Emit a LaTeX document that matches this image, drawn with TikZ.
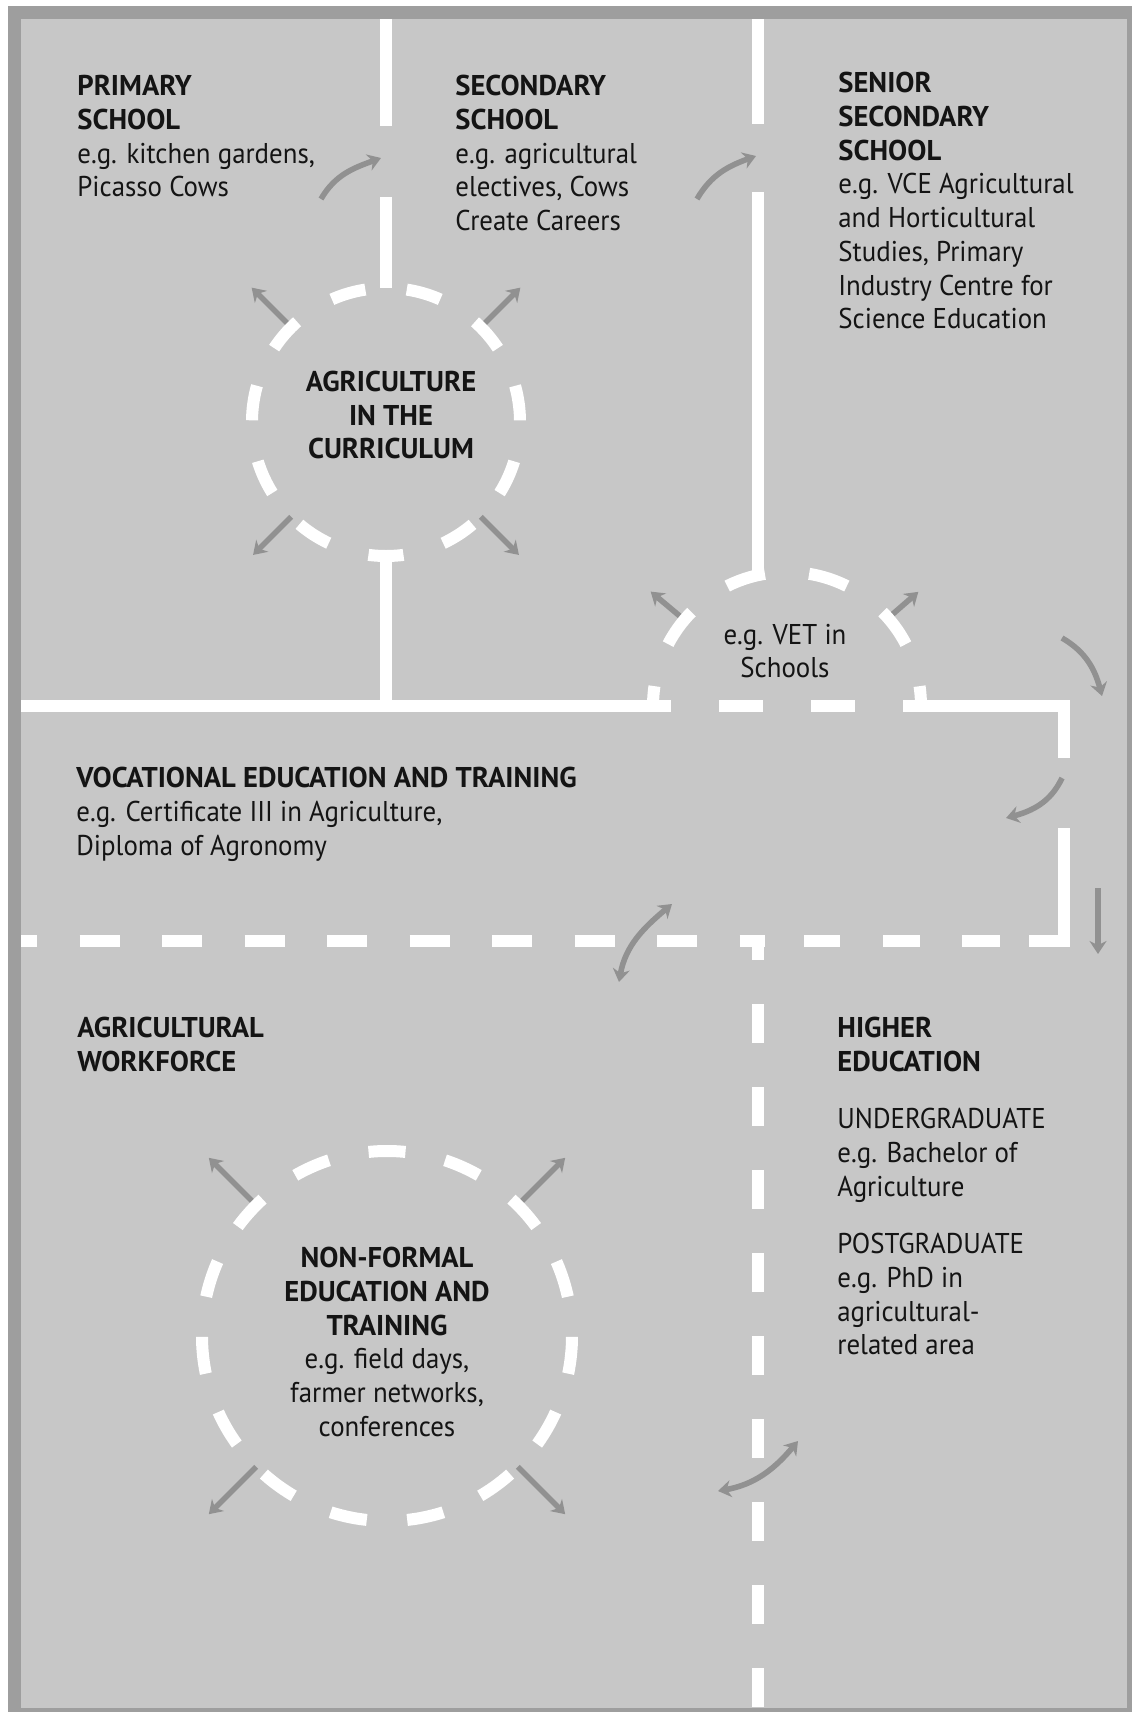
\documentclass[tikz,border=0pt]{standalone}
\usepackage{fontspec}
\setmainfont{PT Sans}[UprightFeatures={FakeStretch=0.94}]
\usetikzlibrary{arrows.meta,calc}

\definecolor{panel}{RGB}{199,199,199}
\definecolor{frame}{RGB}{158,158,158}
\definecolor{flowgrey}{RGB}{145,145,145}
\definecolor{ink}{RGB}{20,20,20}

\begin{document}
\begin{tikzpicture}[x=0.5pt,y=0.5pt,
    >={Stealth[length=6.5pt,width=8.5pt]},
    wall/.style={white,line width=6pt},
    ring/.style={white,line width=6pt},
    flow/.style={flowgrey,line width=2.8pt},
    lbl/.style={inner sep=0pt,align=left,anchor=north west,text=ink,
                font=\fontsize{14.3}{16.85}\selectfont}]
   \useasboundingbox (0,0) rectangle (1132,-1712);
   \fill[white] (0,0) rectangle (1132,-1712);
   \fill[frame] (8,-6) rectangle (1132,-1712);
   \fill[panel] (21,-19) rectangle (1127,-1708);

   % centres of the three rings
   \coordinate (curr) at (386,-422);
   \coordinate (vetc) at (787,-706);
   \coordinate (nonf) at (387,-1336);

   % grey arrows out of the rings
   \draw[flow,->] ($(curr)+(135:134)$) -- ($(curr)+(135:190)$);
   \draw[flow,->] ($(curr)+(45:134)$) -- ($(curr)+(45:190)$);
   \draw[flow,->] ($(curr)+(225:134)$) -- ($(curr)+(225:188)$);
   \draw[flow,->] ($(curr)+(315:134)$) -- ($(curr)+(315:188)$);
   \draw[flow,->] ($(vetc)+(140:134)$) -- ($(vetc)+(140:178)$);
   \draw[flow,->] ($(vetc)+(41:134)$) -- ($(vetc)+(41:174)$);
   \draw[flow,->] ($(nonf)+(135:185)$) -- ($(nonf)+(135:252)$);
   \draw[flow,->] ($(nonf)+(45:185)$) -- ($(nonf)+(45:252)$);
   \draw[flow,->] ($(nonf)+(225:185)$) -- ($(nonf)+(225:252)$);
   \draw[flow,->] ($(nonf)+(315:185)$) -- ($(nonf)+(315:252)$);

   % curved arrows between the sectors
   \draw[flow,->] (321,-199) to[out=60,in=200] (381,-158);
   \draw[flow,->] (697,-199) to[out=60,in=200] (756,-156);
   \draw[flow,->] (1062,-638) to[out=-30,in=105] (1102,-696);
   \draw[flow,->] (1062,-778) to[out=-115,in=15] (1006,-818);
   \draw[flow,->] (1098,-888) -- (1098,-954);
   \draw[flow,<->] (619,-982) to[out=80,in=220] (672,-904);
   \draw[flow,<->] (718,-1491) to[out=10,in=230] (798,-1441);

   % white walls
   \draw[wall] (386,-19) -- (386,-126) (386,-197) -- (386,-288)
               (386,-556) -- (386,-706);
   \draw[wall] (758,-19) -- (758,-124) (758,-192) -- (758,-575);
   \draw[wall] (21,-706) -- (671,-706) (719,-706) -- (763,-706)
               (811,-706) -- (855,-706) (903,-706) -- (1064,-706) -- (1064,-758)
               (1064,-828) -- (1064,-941) -- (1029,-941);
   \draw[wall,dash pattern=on 20pt off 21.25pt,dash phase=12pt] (21,-941) -- (765,-941);
   \draw[wall] (804,-941) -- (840,-941) (883,-941) -- (920,-941) (962,-941) -- (1000,-941);
   \draw[wall,dash pattern=on 19.5pt off 22pt,dash phase=10pt] (758,-941) -- (758,-1708);

   % dashed rings
   \draw[ring,dash pattern=on 17.5pt off 20.77pt,dash phase=8.75pt]
      ($(curr)+(-90:134)$) arc[start angle=-90,delta angle=360,radius=134];
   \draw[ring,dash pattern=on 19.9pt off 22.2pt,dash phase=9.95pt]
      ($(vetc)+(0:134)$) arc[start angle=0,end angle=180,radius=134];
   \draw[ring,dash pattern=on 18.5pt off 20.25pt,dash phase=9.25pt]
      ($(nonf)+(90:185)$) arc[start angle=90,delta angle=360,radius=185];

   % texts
   \node[lbl] (primary) at (77,-75)
      {\textbf{PRIMARY}\\\textbf{SCHOOL}\\e.g. kitchen gardens,\\Picasso Cows};
   \node[lbl] (secondary) at (455,-75)
      {\textbf{SECONDARY}\\\textbf{SCHOOL}\\e.g. agricultural\\electives, Cows\\Create Careers};
   \node[lbl] (senior) at (838,-72)
      {\textbf{SENIOR}\\\textbf{SECONDARY}\\\textbf{SCHOOL}\\e.g. VCE Agricultural\\and Horticultural\\Studies, Primary\\Industry Centre for\\Science Education};
   \node[lbl,anchor=center,align=center] (curriculum) at (391,-415)
      {\textbf{AGRICULTURE}\\\textbf{IN THE}\\\textbf{CURRICULUM}};
   \node[lbl,anchor=center,align=center] (vetschools) at (785,-651)
      {e.g. VET in\\Schools};
   \node[lbl] (vocational) at (76,-767)
      {\textbf{VOCATIONAL EDUCATION AND TRAINING}\\e.g. Certificate III in Agriculture,\\Diploma of Agronomy};
   \node[lbl] (workforce) at (77,-1017)
      {\textbf{AGRICULTURAL}\\\textbf{WORKFORCE}};
   \node[lbl] (higher) at (837,-1017)
      {\textbf{HIGHER}\\\textbf{EDUCATION}};
   \node[lbl] (undergrad) at (837,-1108)
      {UNDERGRADUATE\\e.g. Bachelor of\\Agriculture};
   \node[lbl] (postgrad) at (837,-1233)
      {POSTGRADUATE\\e.g. PhD in\\agricultural-\\related area};
   \node[lbl,anchor=center,align=center] (nonformal) at (387,-1342)
      {\textbf{NON-FORMAL}\\\textbf{EDUCATION AND}\\\textbf{TRAINING}\\e.g. field days,\\farmer networks,\\conferences};
\end{tikzpicture}
\end{document}
